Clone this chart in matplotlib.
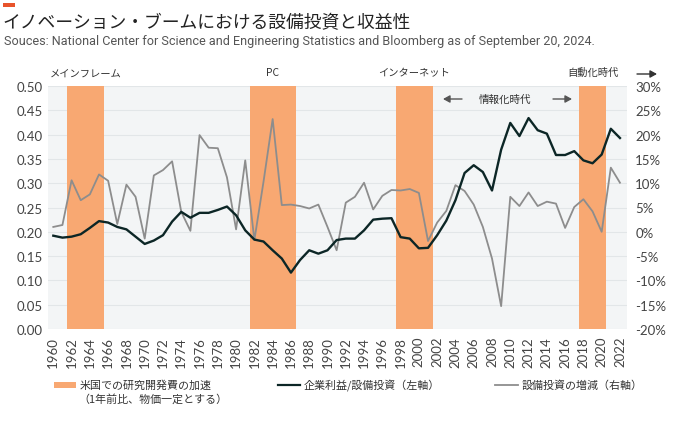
import matplotlib.pyplot as plt
from matplotlib import font_manager
from matplotlib.patches import Rectangle, FancyArrowPatch
from matplotlib.lines import Line2D

# --- data ---
years = list(range(1960, 2023))

profit_to_capex = [
    0.192, 0.188, 0.190, 0.195, 0.208, 0.222, 0.219, 0.210, 0.205, 0.190,
    0.175, 0.182, 0.193, 0.221, 0.241, 0.229, 0.239, 0.239, 0.245, 0.252,
    0.234, 0.203, 0.184, 0.180, 0.162, 0.145, 0.116, 0.142, 0.162, 0.155,
    0.162, 0.183, 0.186, 0.186, 0.203, 0.225, 0.227, 0.228, 0.189, 0.186,
    0.166, 0.167, 0.193, 0.223, 0.265, 0.321, 0.337, 0.323, 0.285, 0.369,
    0.424, 0.397, 0.434, 0.409, 0.402, 0.358, 0.358, 0.366, 0.347, 0.341,
    0.359, 0.412, 0.393,
]

capex_growth = [
    1.0, 1.4, 10.6, 6.5, 7.7, 11.8, 10.5, 1.6, 9.7, 7.2,
    -1.4, 11.6, 12.7, 14.5, 4.1, 0.2, 19.9, 17.3, 17.2, 11.2,
    0.5, 14.7, -1.7, 10.3, 23.2, 5.5, 5.6, 5.3, 4.8, 5.6,
    1.0, -3.8, 6.0, 7.2, 10.1, 4.6, 7.4, 8.6, 8.5, 8.8,
    8.0, -1.9, 1.9, 4.3, 9.6, 8.4, 5.6, 1.0, -5.5, -15.3,
    7.2, 5.3, 8.1, 5.3, 6.2, 5.8, 0.8, 5.1, 6.7, 4.2,
    0.0, 13.2, 10.1,
]

band_start = [1961.5, 1981.5, 1997.5, 2017.5]
band_end = [1965.5, 1986.5, 2001.5, 2020.5]
band_names = ['メインフレーム', 'PC', 'インターネット', '自動化時代']

left_ticks = [0.0, 0.05, 0.10, 0.15, 0.20, 0.25, 0.30, 0.35, 0.40, 0.45, 0.50]
right_ticks = [-20, -15, -10, -5, 0, 5, 10, 15, 20, 25, 30]
x_ticks = list(range(1960, 2023, 2))

title = 'イノベーション・ブームにおける設備投資と収益性'
subtitle = 'Souces: National Center for Science and Engineering Statistics and Bloomberg as of September 20, 2024.'

# --- style ---
ORANGE = '#f8a872'
DARK = '#0c2626'
GRAY = '#8d8d8d'
BG = '#f3f5f6'
GRID = '#e2e6e8'
TXT = '#444444'

names = {f.name for f in font_manager.fontManager.ttflist}
num_font = 'Lato' if 'Lato' in names else 'DejaVu Sans'
narrow = 'Liberation Sans Narrow' if 'Liberation Sans Narrow' in names else 'Roboto'
jp = ['Noto Sans CJK JP', 'DejaVu Sans']

plt.rcParams['font.family'] = [num_font, 'Noto Sans CJK JP', 'DejaVu Sans']

fig = plt.figure(figsize=(6.8, 4.31), dpi=100)
# back layer carries the right axis, background, grid, bands and gray line
back = fig.add_axes([48 / 680, 1 - 330 / 431, 579 / 680, 243 / 431])
front = back.twinx()
back.yaxis.tick_right()
back.yaxis.set_label_position('right')
front.yaxis.tick_left()
front.yaxis.set_label_position('left')
front.patch.set_visible(False)
back.set_facecolor(BG)

for s, e in zip(band_start, band_end):
    back.axvspan(s, e, color=ORANGE, lw=0, zorder=1)
back.plot(years, capex_growth, color=GRAY, lw=1.3, zorder=3)
front.plot(years, profit_to_capex, color=DARK, lw=1.7, zorder=4)

back.set_xlim(1959.42, 2022.77)
front.set_ylim(0, 0.5)
back.set_ylim(-20, 30)

front.set_yticks(left_ticks)
front.set_yticklabels([f'{v:.2f}' for v in left_ticks])
back.set_yticks(right_ticks)
back.set_yticklabels([f'{v}%' for v in right_ticks])
back.set_xticks(x_ticks)
back.set_xticklabels([str(y) for y in x_ticks], rotation=90)

back.grid(axis='y', color=GRID, lw=0.8, zorder=0)
back.set_axisbelow(True)
for a in (front, back):
    for sp in a.spines.values():
        sp.set_visible(False)
    a.tick_params(length=0, labelsize=9.5, colors=TXT)
front.tick_params(axis='y', pad=4)
back.tick_params(axis='x', pad=5)
back.tick_params(axis='y', pad=6)

# era labels above the bands
for s, e, n in zip(band_start, band_end, band_names):
    back.text((s + e) / 2, 1.057, n, transform=back.get_xaxis_transform(),
              ha='center', va='center', fontsize=7.4, color='#333333', family=jp)


def fig_arrow(x0, x1, y, color):
    fig.add_artist(FancyArrowPatch(
        (x0 / 680, 1 - y / 431), (x1 / 680, 1 - y / 431),
        transform=fig.transFigure, arrowstyle='-|>,head_length=4,head_width=2.2',
        color=color, lw=1.0, shrinkA=0, shrinkB=0, mutation_scale=1))


fig_arrow(637, 657, 75, '#333333')
fig_arrow(462, 443, 100, '#555555')
fig_arrow(553, 572, 100, '#555555')
fig.text(505 / 680, 1 - 100 / 431, '情報化時代', ha='center', va='center',
         fontsize=7.6, color='#333333', family=jp)

# header
fig.add_artist(Rectangle((3 / 680, 1 - 7.5 / 431), 12 / 680, 4 / 431,
                         transform=fig.transFigure, color='#e8532b', lw=0))
fig.text(2 / 680, 1 - 23 / 431, title, ha='left', va='center', fontsize=12.8,
         color='#222222', family=jp)
sub = fig.text(4 / 680, 1 - 41.5 / 431, subtitle, ha='left', va='center',
               fontsize=10.5, color='#555555', family=narrow)
# shrink the subtitle until it spans the reference width
r = fig.canvas.get_renderer()
w = sub.get_window_extent(renderer=r).width
sub.set_fontsize(10.5 * 592 / w)

# legend (drawn by hand to match the spacing)
ly = 1 - 386 / 431
fig.add_artist(Rectangle((54 / 680, 1 - 389 / 431), 22 / 680, 6 / 431,
                         transform=fig.transFigure, color=ORANGE, lw=0))
fig.text(80 / 680, ly, '米国での研究開発費の加速', ha='left', va='center',
         fontsize=7.9, color='#333333', family=jp)
fig.text(78 / 680, 1 - 399 / 431, '（1年前比、物価一定とする）', ha='left', va='center',
         fontsize=7.9, color='#333333', family=jp)
fig.add_artist(Line2D([278 / 680, 300 / 680], [ly, ly], transform=fig.transFigure,
                      color=DARK, lw=1.6))
fig.text(304 / 680, ly, '企業利益/設備投資（左軸）', ha='left', va='center',
         fontsize=7.9, color='#333333', family=jp)
fig.add_artist(Line2D([495 / 680, 518 / 680], [ly, ly], transform=fig.transFigure,
                      color=GRAY, lw=1.3))
fig.text(522 / 680, ly, '設備投資の増減（右軸）', ha='left', va='center',
         fontsize=7.9, color='#333333', family=jp)

fig.savefig('out.png', dpi=100)
